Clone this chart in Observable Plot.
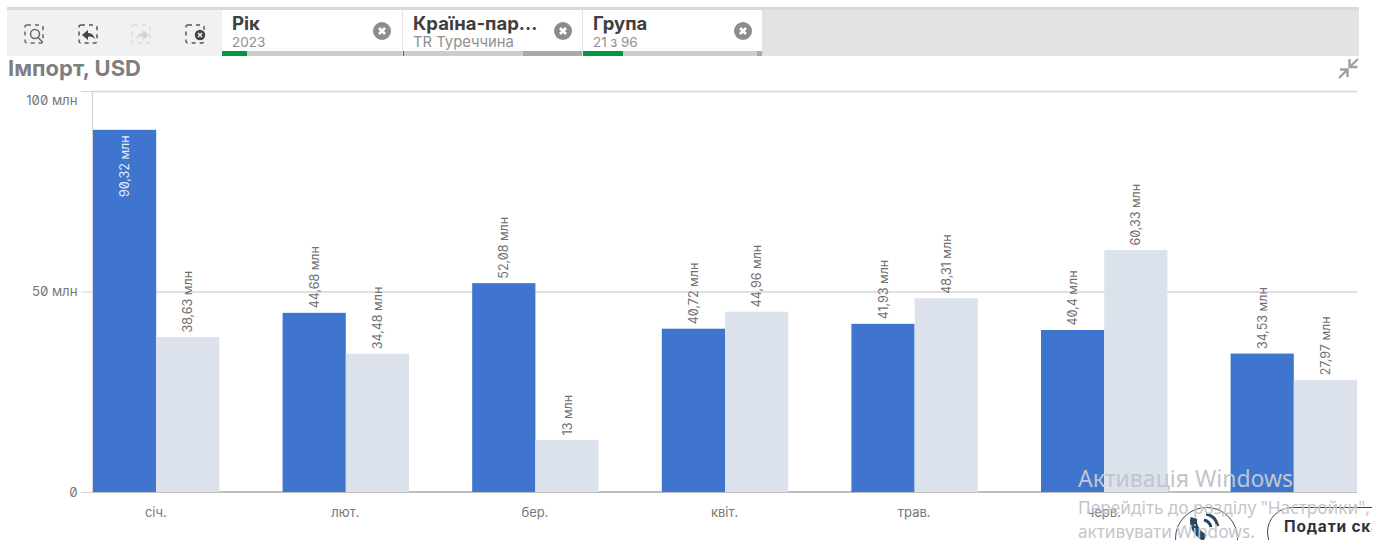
<!DOCTYPE html>
<html lang="uk"><head><meta charset="utf-8">
<style>
html,body{margin:0;padding:0;background:#fff;overflow:hidden}
body{width:1375px;height:540px;position:relative;font-family:Inter,sans-serif}
#strip{position:absolute;left:7px;top:7px;width:1352px;height:3px;background:#d6d8e6}
#bar{position:absolute;left:7px;top:10px;width:1352px;height:46px;background:#e3e3e3}
#tools{position:absolute;left:7px;top:10px;width:215px;height:46px;background:#f1f1f1}
.tool{position:absolute;top:23px}
.sel{position:absolute;top:10px;height:46px;background:#fff;box-sizing:border-box}
.sel b{position:absolute;left:10px;top:3px;height:20px;font:700 18.5px/20px Inter,sans-serif;color:#404040;white-space:nowrap}
.sel span{position:absolute;left:10px;top:25px;height:15px;font:13.5px/15px Inter,sans-serif;color:#8f8f8f;white-space:nowrap}
.sel i{position:absolute;left:0;right:0;bottom:0;height:5px;background:#cccccc}
.sel u{position:absolute;bottom:0;height:5px;display:block}
.x{position:absolute;top:12px;left:151px;width:18px;height:18px}
#title{position:absolute;left:8px;top:56px;font:700 22px/25px Inter,sans-serif;color:#7f7f7f;white-space:nowrap}
#chart{position:absolute;left:0;top:80px}
#wm1{position:absolute;left:1078px;top:464px;font:23px/28px "Noto Sans",sans-serif;color:#c2c5cb}
#wm2{position:absolute;left:1078px;top:496px;width:294px;overflow:hidden;font:17.3px/24px "Noto Sans",sans-serif;color:#c4c6cb;white-space:nowrap}
#call{position:absolute;left:1175px;top:507px;width:63px;height:63px;box-sizing:border-box;border:1.5px solid #3c4652;border-radius:50%}
#send{position:absolute;left:1267px;top:507px;width:160px;height:50px;box-sizing:border-box;border:1.5px solid #3c4652;border-radius:25px;background:#fff}
#send span{position:absolute;left:16px;top:10px;font:700 15.5px/18px Inter,sans-serif;letter-spacing:.8px;color:#2b3440;white-space:nowrap}
#edge{position:absolute;left:1372px;top:490px;width:3px;height:50px;background:#fff}
</style></head><body>
<div id="strip"></div><div id="bar"></div><div id="tools"></div>
<svg class="tool" style="left:24px" width="22" height="22" viewBox="0 0 22 22" fill="none" stroke="#666" stroke-width="1.5"><rect x="1" y="2" width="18" height="18" rx="2" stroke-dasharray="4 4"/><circle cx="11" cy="11" r="4.5" fill="#f1f1f1"/><path d="M14 14.5l4.5 4.5"/></svg>
<svg class="tool" style="left:78px" width="22" height="22" viewBox="0 0 22 22" fill="none" stroke="#555" stroke-width="1.5"><rect x="1" y="2" width="18" height="18" rx="2" stroke-dasharray="4 4"/><path d="M4 12l6-5v3c3 0 6 2 7 6-2-2-4-3-7-2v3z" fill="#444" stroke="none"/></svg>
<svg class="tool" style="left:131px" width="22" height="22" viewBox="0 0 22 22" fill="none" stroke="#dadada" stroke-width="1.5"><rect x="1" y="2" width="18" height="18" rx="2" stroke-dasharray="4 4"/><path d="M18 12l-6-5v3c-3 0-6 2-7 6 2-2 4-3 7-2v3z" fill="#d4d4d4" stroke="none"/></svg>
<svg class="tool" style="left:185px" width="22" height="22" viewBox="0 0 22 22" fill="none" stroke="#555" stroke-width="1.5"><rect x="1" y="2" width="18" height="18" rx="2" stroke-dasharray="4 4"/><circle cx="15" cy="12" r="6" fill="#444" stroke="#f1f1f1"/><path d="M13 10l4 4m0-4l-4 4" stroke="#f1f1f1"/></svg>
<div class="sel" style="left:222px;width:180px"><b>Рік</b><span>2023</span><i></i><u style="left:0;width:25px;background:#009845"></u><svg class="x" viewBox="0 0 18 18"><circle cx="9" cy="9" r="9" fill="#8c8c8c"/><path d="M6 6l6 6m0-6l-6 6" stroke="#fff" stroke-width="2.6"/></svg></div>
<div class="sel" style="left:403px;width:179px"><b>Країна-пар...</b><span style="font-size:14.8px">TR Туреччина</span><i></i><u style="left:0;width:1px;background:#009845"></u><u style="left:120px;width:59px;background:#a9a9a9"></u><svg class="x" viewBox="0 0 18 18"><circle cx="9" cy="9" r="9" fill="#8c8c8c"/><path d="M6 6l6 6m0-6l-6 6" stroke="#fff" stroke-width="2.6"/></svg></div>
<div class="sel" style="left:583px;width:179px"><b>Група</b><span>21 з 96</span><i></i><u style="left:0;width:40px;background:#009845"></u><u style="left:174px;width:5px;background:#a9a9a9"></u><svg class="x" viewBox="0 0 18 18"><circle cx="9" cy="9" r="9" fill="#8c8c8c"/><path d="M6 6l6 6m0-6l-6 6" stroke="#fff" stroke-width="2.6"/></svg></div>
<div id="title">Імпорт, USD</div>
<svg style="position:absolute;left:1337px;top:57px" width="23" height="23" viewBox="0 0 23 23" fill="none" stroke="#a0a0a0" stroke-width="2.4"><path d="M3 12.5h7.5V20M10.5 12.5L2 21"/><path d="M12.5 2v8h8M12.5 10L21 2"/></svg>
<div id="chart"></div>
<div id="call"></div>
<svg style="position:absolute;left:1186px;top:510px" width="40" height="30" viewBox="0 0 40 30" fill="none" stroke="#2c4560" stroke-width="3"><path d="M8 8c-2 6 2 15 11 20" stroke-width="7"/><path d="M18 10c4 1 6 3 7 7"/><path d="M20 4c6 1 10 5 12 12"/></svg>
<div id="send"><span>Подати скаргу</span></div>
<div id="wm1">Активація Windows</div>
<div id="wm2">Перейдіть до розділу "Настройки",<br>активувати Windows.</div>
<div id="edge"></div>
<script src="https://cdn.jsdelivr.net/npm/d3@7"></script>
<script src="https://cdn.jsdelivr.net/npm/@observablehq/plot@0.6"></script>
<script>
const months = ["січ.","лют.","бер.","квіт.","трав.","черв."];
const valuesA = [90.32,44.68,52.08,40.72,41.93,40.4,34.53];
const valuesB = [38.63,34.48,13,44.96,48.31,60.33,27.97];
const yTicks = [0,50,100];
const yLabels = {0:"0",50:"50 млн",100:"100 млн"};
const colors = ["#3f75cf","#dce2ec"];
const rows = valuesA.flatMap((a,i)=>[
  {slot:i*3,s:"A",v:a},
  {slot:i*3+1,s:"B",v:valuesB[i]}
]);
const fmt = v => String(v).replace(".",",")+" млн";
const inside = d => d.v > 85;
const labelOpts = {x:d=>d.slot+0.5,y:"v",text:d=>fmt(d.v),rotate:-90,fontSize:12.5,lineAnchor:"middle"};
const axisText = {fontSize:13.2,fill:"#777777",fontVariant:"slashed-zero",label:null};
const plot = Plot.plot({
  width:1375,height:460,
  marginLeft:93,marginRight:18,marginTop:11,marginBottom:48,
  style:{fontFamily:"Inter",background:"transparent",overflow:"visible",fontVariantNumeric:"slashed-zero"},
  x:{domain:[0,20],axis:null,label:null},
  y:{domain:[0,100],axis:null,label:null},
  color:{domain:["A","B"],range:colors},
  marks:[
    Plot.ruleY([50,100],{stroke:"#d6d6d6",strokeWidth:1.3}),
    Plot.ruleX([0],{stroke:"#d6d6d6",strokeWidth:1.3,dx:-1}),
    Plot.ruleY([0],{stroke:"#a8a8a8",strokeWidth:1.5,dy:-0.5}),
    Plot.rectY(rows,{x1:"slot",x2:d=>d.slot+1,y1:0,y2:"v",fill:"s"}),
    Plot.text(rows.filter(d=>!inside(d)),{...labelOpts,textAnchor:"start",dy:-5,fill:"#707070"}),
    Plot.text(rows.filter(inside),{...labelOpts,textAnchor:"end",dy:5,fill:"#e6edf8"}),
    Plot.axisY({ticks:yTicks,tickSize:12,tickFormat:()=>"",stroke:"#d6d6d6",label:null}),
    Plot.axisY({ticks:[0,50],tickSize:0,tickPadding:16,tickFormat:d=>yLabels[d],...axisText}),
    Plot.axisY({ticks:[100],tickSize:0,tickPadding:16,dy:9,tickFormat:d=>yLabels[d],...axisText}),
    Plot.axisX({ticks:months.map((m,i)=>i*3+1),tickSize:0,tickPadding:15,dx:-1,tickFormat:t=>months[(t-1)/3],fontSize:13,fill:"#777777",label:null})
  ]
});
document.getElementById("chart").appendChild(plot);
</script>
</body></html>
